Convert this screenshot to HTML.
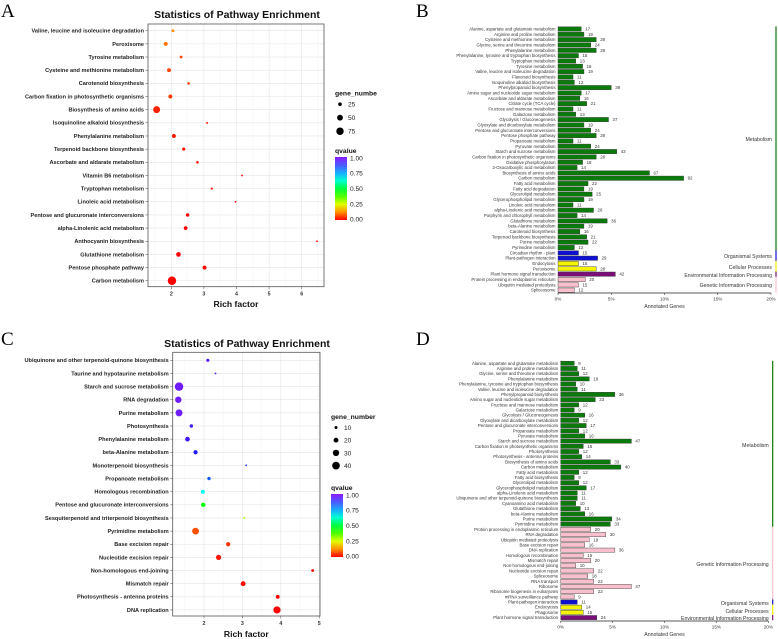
<!DOCTYPE html>
<html><head><meta charset="utf-8">
<style>
html,body{margin:0;padding:0;background:#fff;}
svg{display:block;font-family:"Liberation Sans",sans-serif;}
</style></head>
<body>
<svg id="fig" width="778" height="639" viewBox="0 0 778 639" xmlns="http://www.w3.org/2000/svg">
<defs>
<linearGradient id="qgrad" x1="0" y1="1" x2="0" y2="0">
<stop offset="0" stop-color="hsl(0,100%,50%)"/><stop offset="0.125" stop-color="hsl(34,100%,50%)"/>
<stop offset="0.25" stop-color="hsl(67,100%,50%)"/><stop offset="0.375" stop-color="hsl(101,100%,50%)"/>
<stop offset="0.5" stop-color="hsl(135,100%,50%)"/><stop offset="0.625" stop-color="hsl(169,100%,50%)"/>
<stop offset="0.75" stop-color="hsl(202,100%,55%)"/><stop offset="0.875" stop-color="hsl(236,100%,65%)"/>
<stop offset="1" stop-color="hsl(270,100%,55%)"/>
</linearGradient>
</defs>
<text x="1" y="17" font-family="Liberation Serif" font-size="19">A</text>
<text x="416" y="17" font-family="Liberation Serif" font-size="19">B</text>
<text x="1" y="345" font-family="Liberation Serif" font-size="19">C</text>
<text x="416" y="345" font-family="Liberation Serif" font-size="19">D</text>
<g id="pa"></g><g id="pb"></g><g id="pc"></g><g id="pd"></g>
</svg>
<script>
// ===== Panel A data =====
const aCategories=["Valine, leucine and isoleucine degradation","Peroxisome","Tyrosine metabolism","Cysteine and methionine metabolism","Carotenoid biosynthesis","Carbon fixation in photosynthetic organisms","Biosynthesis of amino acids","Isoquinoline alkaloid biosynthesis","Phenylalanine metabolism","Terpenoid backbone biosynthesis","Ascorbate and aldarate metabolism","Vitamin B6 metabolism","Tryptophan metabolism","Linoleic acid metabolism","Pentose and glucuronate interconversions","alpha-Linolenic acid metabolism","Anthocyanin biosynthesis","Glutathione metabolism","Pentose phosphate pathway","Carbon metabolism"];
const aRich=[2.05,1.83,2.3,1.93,2.53,1.97,1.55,3.1,2.08,2.38,2.8,4.17,3.24,3.97,2.5,2.44,6.47,2.22,3.02,2.02];
const aGenes=[19,28,18,28,16,28,67,12,28,21,16,6,13,11,24,26,4,36,28,92];
const aQ=[0.13,0.1,0.06,0.06,0.05,0.05,0.03,0.02,0.02,0.02,0.01,0.01,0.01,0.01,0.0,0.0,0.0,0.0,0.0,0.0];
const aXTicks=[2,3,4,5,6];
const aSizeLegend=[25,50,75];
// ===== Panel C data =====
const cCategories=["Ubiquinone and other terpenoid-quinone biosynthesis","Taurine and hypotaurine metabolism","Starch and sucrose metabolism","RNA degradation","Purine metabolism","Photosynthesis","Phenylalanine metabolism","beta-Alanine metabolism","Monoterpenoid biosynthesis","Propanoate metabolism","Homologous recombination","Pentose and glucuronate interconversions","Sesquiterpenoid and triterpenoid biosynthesis","Pyrimidine metabolism","Base excision repair","Nucleotide excision repair","Non-homologous end-joining","Mismatch repair","Photosynthesis - antenna proteins","DNA replication"];
const cRich=[2.1,2.3,1.35,1.33,1.35,1.67,1.57,1.78,3.1,2.13,1.97,1.98,3.05,1.78,2.63,2.38,4.83,3.02,3.92,3.9];
const cGenes=[11,5,47,30,34,12,19,16,4,12,15,17,6,33,16,22,10,20,14,36];
const cQ=[0.95,0.95,0.97,0.97,0.97,0.93,0.93,0.9,0.85,0.82,0.65,0.45,0.3,0.07,0.04,0.02,0.01,0.0,0.0,0.0];
const cXTicks=[2,3,4,5];
const cSizeLegend=[10,20,30,40];
// ===== Panel B data =====
const bCategories=["Alanine, aspartate and glutamate metabolism","Arginine and proline metabolism","Cysteine and methionine metabolism","Glycine, serine and threonine metabolism","Phenylalanine metabolism","Phenylalanine, tyrosine and tryptophan biosynthesis","Tryptophan metabolism","Tyrosine metabolism","Valine, leucine and isoleucine degradation","Flavonoid biosynthesis","Isoquinoline alkaloid biosynthesis","Phenylpropanoid biosynthesis","Amino sugar and nucleotide sugar metabolism","Ascorbate and aldarate metabolism","Citrate cycle (TCA cycle)","Fructose and mannose metabolism","Galactose metabolism","Glycolysis / Gluconeogenesis","Glyoxylate and dicarboxylate metabolism","Pentose and glucuronate interconversions","Pentose phosphate pathway","Propanoate metabolism","Pyruvate metabolism","Starch and sucrose metabolism","Carbon fixation in photosynthetic organisms","Oxidative phosphorylation","2-Oxocarboxylic acid metabolism","Biosynthesis of amino acids","Carbon metabolism","Fatty acid metabolism","Fatty acid degradation","Glycerolipid metabolism","Glycerophospholipid metabolism","Linoleic acid metabolism","alpha-Linolenic acid metabolism","Porphyrin and chlorophyll metabolism","Glutathione metabolism","beta-Alanine metabolism","Carotenoid biosynthesis","Terpenoid backbone biosynthesis","Purine metabolism","Pyrimidine metabolism","Circadian rhythm - plant","Plant-pathogen interaction","Endocytosis","Peroxisome","Plant hormone signal transduction","Protein processing in endoplasmic reticulum","Ubiquitin mediated proteolysis","Spliceosome"];
const bValues=[17,19,28,24,28,15,13,18,19,11,12,39,17,16,21,11,13,37,19,24,28,11,24,43,28,18,14,67,92,22,19,25,19,11,26,14,36,19,16,21,22,12,15,29,15,28,42,20,15,12];
const bGroups=["M","M","M","M","M","M","M","M","M","M","M","M","M","M","M","M","M","M","M","M","M","M","M","M","M","M","M","M","M","M","M","M","M","M","M","M","M","M","M","M","M","M","O","O","C","C","E","G","G","G"];
const bTotal=780;
// ===== Panel D data =====
const dCategories=["Alanine, aspartate and glutamate metabolism","Arginine and proline metabolism","Glycine, serine and threonine metabolism","Phenylalanine metabolism","Phenylalanine, tyrosine and tryptophan biosynthesis","Valine, leucine and isoleucine degradation","Phenylpropanoid biosynthesis","Amino sugar and nucleotide sugar metabolism","Fructose and mannose metabolism","Galactose metabolism","Glycolysis / Gluconeogenesis","Glyoxylate and dicarboxylate metabolism","Pentose and glucuronate interconversions","Propanoate metabolism","Pyruvate metabolism","Starch and sucrose metabolism","Carbon fixation in photosynthetic organisms","Photosynthesis","Photosynthesis - antenna proteins","Biosynthesis of amino acids","Carbon metabolism","Fatty acid metabolism","Fatty acid biosynthesis","Glycerolipid metabolism","Glycerophospholipid metabolism","alpha-Linolenic acid metabolism","Ubiquinone and other terpenoid-quinone biosynthesis","Cyanoamino acid metabolism","Glutathione metabolism","beta-Alanine metabolism","Purine metabolism","Pyrimidine metabolism","Protein processing in endoplasmic reticulum","RNA degradation","Ubiquitin mediated proteolysis","Base excision repair","DNA replication","Homologous recombination","Mismatch repair","Non-homologous end-joining","Nucleotide excision repair","Spliceosome","RNA transport","Ribosome","Ribosome biogenesis in eukaryotes","mRNA surveillance pathway","Plant-pathogen interaction","Endocytosis","Phagosome","Plant hormone signal transduction"];
const dValues=[9,11,12,19,10,11,36,23,12,9,16,12,17,12,16,47,15,12,14,33,40,12,9,12,17,11,11,10,13,16,34,33,20,30,19,16,36,15,20,10,22,18,22,47,22,9,11,14,15,24];
const dGroups=["M","M","M","M","M","M","M","M","M","M","M","M","M","M","M","M","M","M","M","M","M","M","M","M","M","M","M","M","M","M","M","M","G","G","G","G","G","G","G","G","G","G","G","G","G","G","O","C","C","E"];
const dTotal=690;
const pctTicks=[0,5,10,15,20];
const groupNames={M:"Metabolism",O:"Organismal Systems",C:"Cellular Processes",E:"Environmental Information Processing",G:"Genetic Information Processing"};
const groupFill={M:"#0a7a0a",O:"#1010d0",C:"#f4f400",E:"#7a0f7a",G:"#f8c0cc"};
const groupLine={M:"#0a7a0a",O:"#1010d0",C:"#f4f400",E:"#7a0f7a",G:"#f8c0cc"};

const NS="http://www.w3.org/2000/svg";
function mk(tag,attrs,parent,text){const e=document.createElementNS(NS,tag);for(const k in attrs)e.setAttribute(k,attrs[k]);if(text!==undefined)e.textContent=text;parent.appendChild(e);return e;}
function qColor(q){return "hsl("+(q*270)+",100%,"+(50+Math.max(0,q-0.6)*15)+"%)";}

function bubble(g,cats,rich,genes,qs,ticks,sizeLeg,L){
  const xs=v=>L.x0+(v-L.v0)*L.k;
  const ys=i=>L.r0+i*L.pitch;
  const rs=n=>Math.max(0.9,L.ra*Math.sqrt(n)+L.rb);
  const bg=mk('rect',{x:L.left,y:L.top,width:L.right-L.left,height:L.bottom-L.top,fill:'#fff',stroke:'none'},g);
  
  for(let t=ticks[0]-0.5;t<=ticks[ticks.length-1]+0.5;t+=0.5){const x=xs(t);if(x<L.left||x>L.right)continue;
    const ln=mk('line',{x1:x,x2:x,y1:L.top,y2:L.bottom,stroke:Number.isInteger(t)?'#e4e4e4':'#f2f2f2','stroke-width':Number.isInteger(t)?0.6:0.4},g);
    }
  cats.forEach((c,i)=>{const y=ys(i);
    const ln=mk('line',{x1:L.left,x2:L.right,y1:y,y2:y,stroke:'#e4e4e4','stroke-width':0.6},g);
    
    const tk=mk('line',{x1:L.left-2.5,x2:L.left,y1:y,y2:y,stroke:'#444','stroke-width':0.5},g);
    
    const tx=mk('text',{x:L.left-4,y:y+1.9,'font-size':5.6,'font-weight':'bold','text-anchor':'end',fill:'#222'},g,c);
    });
  const br=mk('rect',{x:L.left,y:L.top,width:L.right-L.left,height:L.bottom-L.top,fill:'none',stroke:'#555','stroke-width':0.8},g);
  
  ticks.forEach(t=>{const x=xs(t);
    const tk=mk('line',{x1:x,x2:x,y1:L.bottom,y2:L.bottom+2.5,stroke:'#444','stroke-width':0.5},g);
    
    const tx=mk('text',{x:x,y:L.bottom+9,'font-size':5.3,'font-weight':'bold','text-anchor':'middle',fill:'#333'},g,String(t));
    });
  cats.forEach((c,i)=>{
    const p=mk('circle',{cx:xs(rich[i]),cy:ys(i),r:rs(genes[i]),fill:qColor(qs[i])},g);
    });
  const ti=mk('text',{x:L.titleX,y:L.titleY,'font-size':10.5,'font-weight':'bold','text-anchor':'middle',fill:'#111'},g,'Statistics of Pathway Enrichment');
  
  const xt=mk('text',{x:(L.left+L.right)/2,y:L.xTitleY,'font-size':8.6,'font-weight':'bold','text-anchor':'middle',fill:'#111'},g,'Rich factor');
  
  const lx=L.legX;
  const gt=mk('text',{x:lx,y:L.legY,'font-size':6.8,'font-weight':'bold',fill:'#111'},g,L.geneTitle);
  
  sizeLeg.forEach((n,j)=>{const y=L.legY+8.5+j*L.legPitch;
    const c=mk('circle',{cx:lx+5,cy:y,r:rs(n),fill:'#000'},g);
    const t=mk('text',{x:lx+13,y:y+2.4,'font-size':6.6,fill:'#222'},g,String(n));});
  const qy=L.qY;
  const qt=mk('text',{x:lx,y:qy,'font-size':6.8,'font-weight':'bold',fill:'#111'},g,'qvalue');
  
  const cb=mk('rect',{x:lx,y:qy+4,width:12,height:63,fill:'url(#qgrad)'},g);
  
  ["1.00","0.75","0.50","0.25","0.00"].forEach((s,j)=>{const y=qy+5+j*15.3;
    const t=mk('text',{x:lx+15,y:y+2.4,'font-size':6.6,fill:'#222'},g,s);});
}

function bars(g,cats,vals,groups,total,L){
  const xs=p=>L.x0+p*L.k;
  const ys=i=>L.r0+i*L.pitch;
  const h=L.pitch*0.82;
  cats.forEach((c,i)=>{const y=ys(i);const p=vals[i]/total*100;
    const tx=mk('text',{x:L.x0-2.5,y:y+1.5,'font-size':4.3,'text-anchor':'end',fill:'#333'},g,c);
    
    const r=mk('rect',{x:L.x0,y:y-h/2,width:xs(p)-L.x0,height:h,fill:groupFill[groups[i]],stroke:'#333','stroke-width':0.4},g);
    
    const vl=mk('text',{x:xs(p)+4,y:y+1.5,'font-size':4.4,fill:'#333'},g,String(vals[i]));
    });
  let start=0;
  for(let i=1;i<=groups.length;i++){
    if(i===groups.length||groups[i]!==groups[start]){
      const y1=ys(start)-L.pitch/2,y2=ys(i-1)+L.pitch/2;const gk=groups[start];
      const ln=mk('line',{x1:L.sideX,x2:L.sideX,y1:y1,y2:y2,stroke:groupLine[gk],'stroke-width':1.2},g);
      
      const ly=L.labelY[gk];
      const t=mk('text',{x:L.sideX-4,y:ly,'font-size':5.2,'text-anchor':'end',fill:'#333'},g,groupNames[gk]);
      
      start=i;}
  }
  const ax=mk('line',{x1:L.x0,x2:xs(20),y1:L.axisY,y2:L.axisY,stroke:'#222','stroke-width':0.8},g);
  
  pctTicks.forEach(t=>{const x=xs(t);
    const tk=mk('line',{x1:x,x2:x,y1:L.axisY,y2:L.axisY+2,stroke:'#222','stroke-width':0.5},g);
    
    const tl=mk('text',{x:x,y:L.axisY+7.5,'font-size':4.6,'text-anchor':'middle',fill:'#333'},g,t+'%');
    });
  const at=mk('text',{x:(L.x0+xs(20))/2,y:L.axisY+15,'font-size':5.2,'text-anchor':'middle',fill:'#333'},g,'Annotated Genes');
  
}

bubble(document.getElementById('pa'),aCategories,aRich,aGenes,aQ,aXTicks,aSizeLegend,
 {left:148,right:324,top:24,bottom:286.7,x0:171.3,v0:2,k:32.6,r0:30.7,pitch:13.16,ra:0.53,rb:-0.85,
  titleX:237,titleY:18,xTitleY:307,legX:335,legY:95.7,legPitch:13.5,qY:153,geneTitle:'gene_numbe'});
bubble(document.getElementById('pc'),cCategories,cRich,cGenes,cQ,cXTicks,cSizeLegend,
 {left:172.7,right:320,top:352.3,bottom:616,x0:204,v0:2,k:38.4,r0:360.3,pitch:13.14,ra:0.75,rb:-0.9,
  titleX:247,titleY:347,xTitleY:637,legX:331,legY:419,legPitch:12.7,qY:490,geneTitle:'gene_number'});
bars(document.getElementById('pb'),bCategories,bValues,bGroups,bTotal,
 {x0:558,k:10.65,r0:29,pitch:5.33,sideX:776,axisY:293,labelY:{M:141,O:258,C:269,E:277,G:287}});
bars(document.getElementById('pd'),dCategories,dValues,dGroups,dTotal,
 {x0:560.7,k:10.38,r0:363.3,pitch:5.19,sideX:772.7,axisY:621,labelY:{M:447,G:566,O:605,C:613,E:620}});
</script>
</body></html>
